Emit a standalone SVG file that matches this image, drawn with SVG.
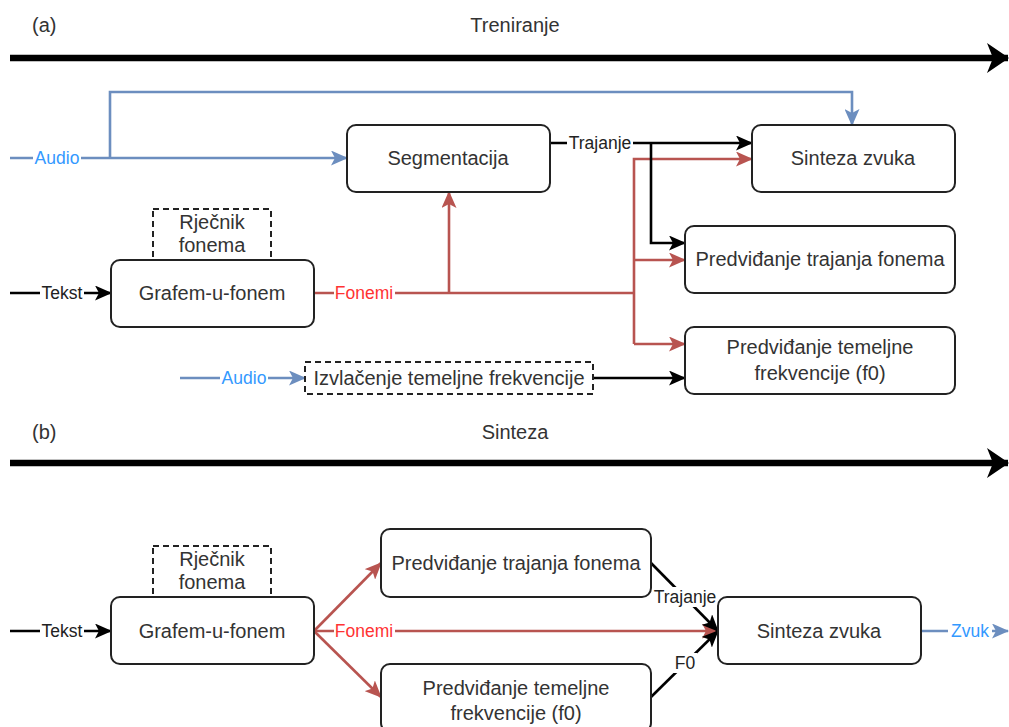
<svg xmlns="http://www.w3.org/2000/svg" width="1009" height="727" viewBox="0 0 1009 727">
<style>
text{font-family:"Liberation Sans",Arial,sans-serif;}
.n{font-size:20px;fill:#333;text-anchor:middle;}
.t{font-size:20px;fill:#333;}
.box{fill:#fff;stroke:#222;stroke-width:2;}
.dash{fill:#fff;stroke:#222;stroke-width:2;stroke-dasharray:6 4;}
.e{fill:none;stroke-width:2.6;}
.k{stroke:#000;}
.r{stroke:#B85450;}
.b{stroke:#6C8EBF;}
.lbl{font-size:17.5px;text-anchor:middle;}
.lk{fill:#222;}
.lr{fill:#FF3333;}
.lb{fill:#3399FF;}
.bg{fill:#fff;}
.thick{stroke:#000;stroke-width:6.5;fill:none;}
</style>
<defs>
<marker id="ak" viewBox="0 0 17 15" refX="16" refY="7.5" markerWidth="17" markerHeight="15" markerUnits="userSpaceOnUse" orient="auto"><path d="M0,0 L17,7.5 L0,15 L4,7.5 Z" fill="#000"/></marker>
<marker id="ar" viewBox="0 0 17 15" refX="16" refY="7.5" markerWidth="17" markerHeight="15" markerUnits="userSpaceOnUse" orient="auto"><path d="M0,0 L17,7.5 L0,15 L4,7.5 Z" fill="#B85450"/></marker>
<marker id="ab" viewBox="0 0 17 15" refX="16" refY="7.5" markerWidth="17" markerHeight="15" markerUnits="userSpaceOnUse" orient="auto"><path d="M0,0 L17,7.5 L0,15 L4,7.5 Z" fill="#6C8EBF"/></marker>
<marker id="abig" viewBox="0 0 22 30" refX="21" refY="15" markerWidth="22" markerHeight="30" markerUnits="userSpaceOnUse" orient="auto"><path d="M0,0 L22,15 L0,30 L6,15 Z" fill="#000"/></marker>
</defs>

<g id="titles">
<text class="t" x="32" y="32">(a)</text>
<text class="n" x="515" y="32">Treniranje</text>
<text class="t" x="32" y="439">(b)</text>
<text class="n" x="515" y="439">Sinteza</text>
</g>

<g id="connectors">
<path class="thick" d="M10,58 H1008" marker-end="url(#abig)"/>
<path class="thick" d="M10,463 H1008" marker-end="url(#abig)"/>

<path class="e b" d="M10,158 H347" marker-end="url(#ab)"/>
<path class="e b" d="M110,158 V92 H852 V125" marker-end="url(#ab)"/>
<path class="e b" d="M180,378 H305" marker-end="url(#ab)"/>
<path class="e r" d="M314,293 H634"/>
<path class="e r" d="M449,293 V192" marker-end="url(#ar)"/>
<path class="e r" d="M634,344 V159 H752" marker-end="url(#ar)"/>
<path class="e r" d="M634,260 H685" marker-end="url(#ar)"/>
<path class="e r" d="M634,344 H685" marker-end="url(#ar)"/>
<path class="e k" d="M10,293 H111" marker-end="url(#ak)"/>
<path class="e k" d="M550,143 H752" marker-end="url(#ak)"/>
<path class="e k" d="M651,143 V243 H685" marker-end="url(#ak)"/>
<path class="e k" d="M593,378 H685" marker-end="url(#ak)"/>

<path class="e k" d="M10,631 H111" marker-end="url(#ak)"/>
<path class="e r" d="M314,631 L381,563" marker-end="url(#ar)"/>
<path class="e r" d="M314,631 L381,697" marker-end="url(#ar)"/>
<path class="e r" d="M314,631 H718" marker-end="url(#ar)"/>
<path class="e k" d="M651,563 L718,631" marker-end="url(#ak)"/>
<path class="e k" d="M651,697 L718,631" marker-end="url(#ak)"/>
<path class="e b" d="M921,631 H1008" marker-end="url(#ab)"/>

<rect class="bg" x="33" y="148" width="48" height="20"/>
<text class="lbl lb" x="57" y="164">Audio</text>
<rect class="bg" x="220" y="368" width="48" height="20"/>
<text class="lbl lb" x="244" y="384">Audio</text>
<rect class="bg" x="567" y="133" width="66" height="20"/>
<text class="lbl lk" x="600" y="149">Trajanje</text>
<rect class="bg" x="334" y="283" width="61" height="20"/>
<text class="lbl lr" x="364" y="299">Fonemi</text>
<rect class="bg" x="40" y="283" width="44" height="20"/>
<text class="lbl lk" x="62" y="299">Tekst</text>
<rect class="bg" x="40" y="621" width="44" height="20"/>
<text class="lbl lk" x="62" y="637">Tekst</text>
<rect class="bg" x="334" y="621" width="61" height="20"/>
<text class="lbl lr" x="364" y="637">Fonemi</text>
<rect class="bg" x="652" y="587" width="66" height="20"/>
<text class="lbl lk" x="685" y="603">Trajanje</text>
<rect class="bg" x="673" y="653" width="24" height="20"/>
<text class="lbl lk" x="685" y="669">F0</text>
<rect class="bg" x="948" y="621" width="44" height="20"/>
<text class="lbl lb" x="970" y="637">Zvuk</text>
</g>

<g id="segmentacija">
<rect class="box" x="347" y="125" width="203" height="67" rx="9"/>
<text class="n" x="448" y="165">Segmentacija</text>
</g>
<g id="sinteza-a">
<rect class="box" x="752" y="125" width="203" height="67" rx="9"/>
<text class="n" x="853" y="165">Sinteza zvuka</text>
</g>
<g id="trajanje-a">
<rect class="box" x="685" y="226" width="270" height="67" rx="9"/>
<text class="n" x="820" y="266">Predviđanje trajanja fonema</text>
</g>
<g id="f0-a">
<rect class="box" x="685" y="327" width="270" height="67" rx="9"/>
<text class="n" x="820" y="354">Predviđanje temeljne</text>
<text class="n" x="820" y="380">frekvencije (f0)</text>
</g>
<g id="rjecnik-a">
<rect class="dash" x="153" y="209" width="118" height="51"/>
<text class="n" x="212" y="229">Rječnik</text>
<text class="n" x="212" y="252">fonema</text>
</g>
<g id="grafem-a">
<rect class="box" x="111" y="260" width="203" height="67" rx="9"/>
<text class="n" x="212" y="300">Grafem-u-fonem</text>
</g>
<g id="izvlacenje">
<rect class="dash" x="305" y="362" width="288" height="32"/>
<text class="n" x="449" y="385">Izvlačenje temeljne frekvencije</text>
</g>

<g id="rjecnik-b">
<rect class="dash" x="153" y="546" width="118" height="51"/>
<text class="n" x="212" y="566">Rječnik</text>
<text class="n" x="212" y="589">fonema</text>
</g>
<g id="grafem-b">
<rect class="box" x="111" y="597" width="203" height="67" rx="9"/>
<text class="n" x="212" y="638">Grafem-u-fonem</text>
</g>
<g id="trajanje-b">
<rect class="box" x="381" y="529" width="270" height="68" rx="9"/>
<text class="n" x="516" y="570">Predviđanje trajanja fonema</text>
</g>
<g id="f0-b">
<rect class="box" x="381" y="664" width="270" height="68" rx="9"/>
<text class="n" x="516" y="695">Predviđanje temeljne</text>
<text class="n" x="516" y="720">frekvencije (f0)</text>
</g>
<g id="sinteza-b">
<rect class="box" x="718" y="597" width="203" height="67" rx="9"/>
<text class="n" x="819" y="638">Sinteza zvuka</text>
</g>
</svg>
